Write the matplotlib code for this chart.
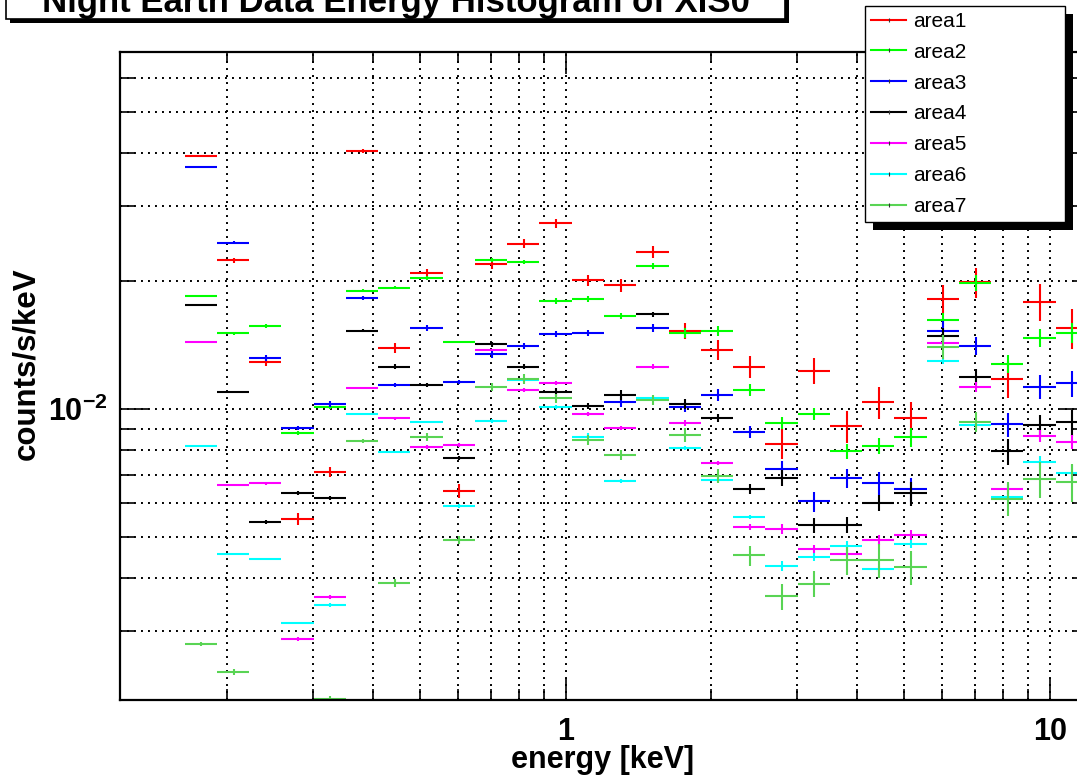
import numpy as np
import matplotlib
matplotlib.use("Agg")
import matplotlib.pyplot as plt
from matplotlib.lines import Line2D
from matplotlib.patches import Rectangle

plt.rcParams['font.family'] = ['Liberation Sans', 'DejaVu Sans']
plt.rcParams['mathtext.fontset'] = 'custom'
plt.rcParams['mathtext.bf'] = 'Liberation Sans:bold'
plt.rcParams['mathtext.rm'] = 'Liberation Sans'

# 30 log bins from 0.12 to 12 keV, the two lowest bins are empty
bin_edges = np.logspace(np.log10(0.12), np.log10(12.0), 31)
first_bin = 2

# counts/s/keV per bin (bins 2..29)
area1 = [0.0394, 0.0224, 0.0129, 0.00551, 0.00711, 0.0405, 0.0139, 0.0209, 0.00641, 0.0219,
         0.0245, 0.0274, 0.0201, 0.0196, 0.0234, 0.0153, 0.0138, 0.0126, 0.00829, 0.0123,
         0.00912, 0.0104, 0.00952, 0.0182, 0.0199, 0.0118, 0.0179, 0.0155]
area2 = [0.0185, 0.0151, 0.0157, 0.00878, 0.0101, 0.0190, 0.0193, 0.0203, 0.0144, 0.0224,
         0.0222, 0.0180, 0.0182, 0.0166, 0.0217, 0.0151, 0.0153, 0.0111, 0.00927, 0.00973,
         0.00796, 0.00818, 0.00859, 0.0162, 0.0198, 0.0128, 0.0147, 0.0151]
area3 = [0.0371, 0.0246, 0.0132, 0.00902, 0.0103, 0.0183, 0.0114, 0.0155, 0.0116, 0.0135,
         0.0141, 0.0150, 0.0151, 0.0104, 0.0155, 0.0101, 0.0108, 0.00883, 0.00723, 0.00607,
         0.00688, 0.00670, 0.00648, 0.0153, 0.0141, 0.00922, 0.0113, 0.0115]
area4 = [0.0176, 0.0110, 0.00542, 0.00634, 0.00618, 0.0153, 0.0126, 0.0114, 0.00767, 0.0142,
         0.0126, 0.0110, 0.0102, 0.0108, 0.0167, 0.0103, 0.00952, 0.00648, 0.00688, 0.00533,
         0.00535, 0.00601, 0.00634, 0.0149, 0.0119, 0.00796, 0.00917, 0.00932]
area5 = [0.0144, 0.00662, 0.00670, 0.00288, 0.00361, 0.0112, 0.00952, 0.00814, 0.00823, 0.0138,
         0.0111, 0.0115, 0.00973, 0.00902, 0.0126, 0.00927, 0.00746, 0.00528, 0.00522, 0.00469,
         0.00456, 0.00492, 0.00505, 0.0143, 0.0113, 0.00648, 0.00864, 0.00836]
area6 = [0.00818, 0.00456, 0.00444, 0.00314, 0.00346, 0.00973, 0.00792, 0.00932, 0.00591, 0.00937,
         0.0117, 0.0101, 0.00859, 0.00677, 0.0106, 0.00809, 0.00681, 0.00557, 0.00427, 0.00449,
         0.00476, 0.00420, 0.00481, 0.0130, 0.00917, 0.0062, 0.00750, 0.00707]
area7 = [0.00280, 0.00241, np.nan, np.nan, 0.00208, 0.00841, 0.00390, 0.00859, 0.00492, 0.0113,
         0.0118, 0.0106, 0.00846, 0.00779, 0.0105, 0.00869, 0.00696, 0.00453, 0.00363, 0.00388,
         0.00441, 0.00441, 0.00425, 0.0140, 0.00932, 0.00616, 0.00684, 0.00673]

# statistical errors in percent of the bin content
err1 = [0.5, 1.4, 2.2, 3.3, 2.7, 1.1, 2.7, 2.2, 3.8, 2.2, 2.4, 2.4, 3.0, 3.5, 3.3, 4.3, 5.4, 6.0,
        8.1, 7.0, 8.7, 8.7, 9.2, 7.6, 8.1, 9.8, 9.8, 10.8]
err2 = [0.5, 0.8, 1.1, 1.1, 1.1, 0.8, 0.8, 1.1, 0.5, 1.1, 1.1, 1.6, 1.6, 1.6, 1.6, 2.7, 2.7, 3.3,
        3.3, 3.3, 4.3, 4.3, 4.9, 3.8, 4.3, 4.9, 4.9, 5.4]
err3 = [0.5, 0.8, 1.6, 1.1, 1.6, 1.1, 1.1, 1.6, 1.1, 2.2, 1.6, 1.6, 1.6, 2.7, 2.2, 2.7, 3.3, 3.3,
        4.3, 5.4, 4.9, 6.0, 6.5, 5.4, 4.9, 6.5, 6.5, 7.0]
err4 = [0.5, 0.5, 1.1, 1.1, 1.1, 0.8, 1.1, 1.1, 1.1, 1.6, 1.6, 2.2, 1.6, 2.7, 1.6, 2.7, 2.2, 2.7,
        4.3, 4.3, 4.3, 4.3, 6.5, 4.3, 4.3, 7.0, 5.4, 7.0]
err5 = [0.5, 0.5, 0.8, 1.1, 1.1, 0.5, 0.8, 1.1, 1.1, 0.5, 1.1, 1.1, 1.1, 1.1, 1.1, 1.6, 1.1, 1.6,
        2.7, 2.2, 2.2, 2.7, 2.7, 2.2, 2.7, 2.7, 3.3, 3.8]
err6 = [0.5, 0.5, 0.5, 0.5, 1.1, 0.5, 0.5, 0.5, 1.1, 1.1, 1.1, 1.1, 2.2, 1.1, 1.1, 1.1, 1.1, 1.1,
        2.7, 2.2, 2.7, 1.6, 2.2, 1.6, 1.6, 2.7, 3.3, 4.3]
err7 = [1.1, 1.6, 1.6, 1.6, 1.6, 1.1, 2.2, 2.2, 2.2, 2.2, 2.7, 2.2, 2.7, 2.7, 2.7, 3.8, 3.8, 5.4,
        7.0, 7.0, 7.6, 9.2, 9.2, 6.5, 5.4, 9.2, 9.8, 10.3]

names = ['area1', 'area2', 'area3', 'area4', 'area5', 'area6', 'area7']
series = [area1, area2, area3, area4, area5, area6, area7]
errors = [err1, err2, err3, err4, err5, err6, err7]
colors = ['#ff0000', '#00ff00', '#0000ff', '#000000', '#ff00ff', '#00ffff', '#59d454']

W, H = 1077, 778
fig = plt.figure(figsize=(W / 100, H / 100), dpi=100)
# frame runs past the right edge of the canvas
ax = fig.add_axes([120 / W, 78 / H, 968 / W, 648 / H])
ax.set_facecolor('none')

lo = bin_edges[first_bin:-1]
hi = bin_edges[first_bin + 1:]
centers = 0.5 * (lo + hi)

for name, vals, err, col in zip(names, series, errors, colors):
    vals = np.array(vals)
    yerr = vals * np.array(err) / 100.0
    ax.errorbar(centers, vals, xerr=[centers - lo, hi - centers], yerr=yerr,
                fmt='none', ecolor=col, elinewidth=1.5, capsize=0)

ax.set_xscale('log')
ax.set_yscale('log')
ax.set_xlim(0.12, 12.0)
ax.set_ylim(0.00207, 0.0692)

ax.set_xticks([1, 10], ['1', '10'])
ax.set_xticks([0.2, 0.3, 0.4, 0.5, 0.6, 0.7, 0.8, 0.9, 2, 3, 4, 5, 6, 7, 8, 9], minor=True)
ax.set_yticks([0.01], [r'$\mathbf{10^{-2}}$'])
ax.set_yticks([0.003, 0.004, 0.005, 0.006, 0.007, 0.008, 0.009,
               0.02, 0.03, 0.04, 0.05, 0.06], minor=True)
ax.xaxis.set_minor_formatter(plt.NullFormatter())
ax.yaxis.set_minor_formatter(plt.NullFormatter())

ax.tick_params(which='both', direction='in', top=True, right=True, width=1.2, color='k')
ax.tick_params(axis='x', which='major', length=16, labelsize=22, pad=12)
ax.tick_params(axis='x', which='minor', length=8)
ax.tick_params(axis='y', which='major', length=20, labelsize=22, pad=9)
ax.tick_params(axis='y', which='minor', length=10)
for lab in ax.get_xticklabels():
    lab.set_fontweight('bold')

ax.grid(which='both', color='k', linestyle=(0, (1, 2.6)), linewidth=1.4)
for sp in ax.spines.values():
    sp.set_linewidth(1.6)

fig.text(603 / W, 10 / H, 'energy [keV]', ha='center', va='baseline',
         fontsize=22, fontweight='bold')
fig.text(26 / W, 1 - 364 / H, 'counts/s/keV', ha='center', va='center',
         rotation=90, fontsize=22.5, fontweight='bold')

# title pave with a hard shadow
fig.add_artist(Rectangle((10, H - 23), 779, 60, transform=None, facecolor='k',
                         edgecolor='none', zorder=3))
fig.add_artist(Rectangle((6, H - 19), 779, 60, transform=None, facecolor='white',
                         edgecolor='k', linewidth=1.2, zorder=3.5))
fig.text(396 / W, 1 - 12 / H, 'Night Earth Data Energy Histogram of XIS0',
         ha='center', va='baseline', fontsize=25, fontweight='bold', zorder=4)

handles = [Line2D([0], [0], color=c, lw=1.5, marker='|', markersize=3,
                  markeredgecolor='#333333', markeredgewidth=0.8) for c in colors]
leg = fig.legend(handles, names, loc='upper left',
                 bbox_to_anchor=(865 / W, 1 - 223 / H, 200 / W, 217 / H),
                 mode='expand', fontsize=15, fancybox=False, framealpha=1,
                 edgecolor='k', borderpad=0.28, labelspacing=0.57,
                 handlelength=1.7, handletextpad=0.35, borderaxespad=0)
leg.set_zorder(5)
leg.get_frame().set_linewidth(1.0)

fig.canvas.draw()
bb = leg.get_window_extent()
fig.add_artist(Rectangle((bb.x0 + 8, bb.y0 - 8), bb.width, bb.height, transform=None,
                         facecolor='k', edgecolor='none', zorder=4.5))

fig.savefig('out.png', dpi=100)
